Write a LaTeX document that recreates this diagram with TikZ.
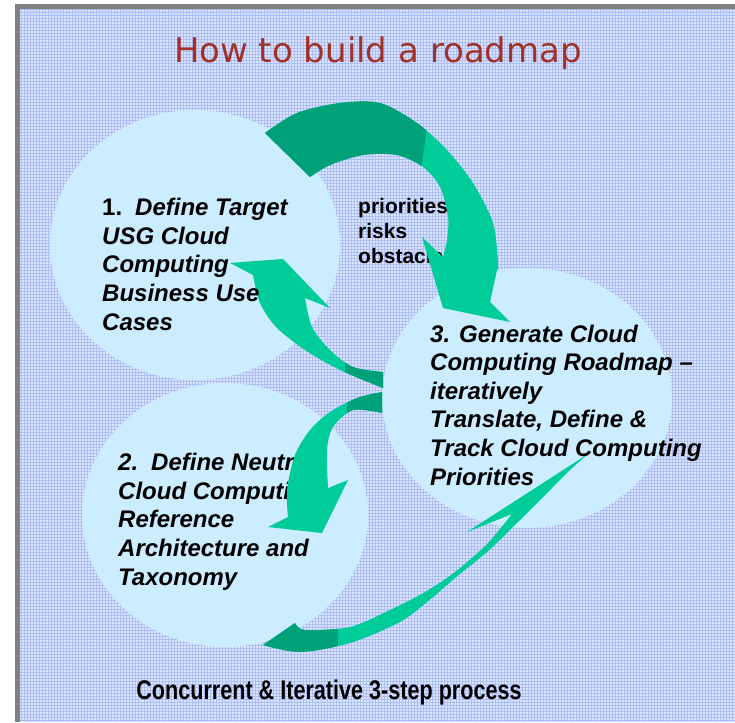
\documentclass[tikz,border=0pt]{standalone}
\usepackage{fontspec}
\setmainfont{Liberation Sans}
\newfontfamily\titlefont{DejaVu Sans}
\newfontfamily\narrowfont{Liberation Sans}[FakeStretch=0.8]
\definecolor{bubble}{RGB}{204,236,255}
\definecolor{leafgreen}{RGB}{0,204,153}
\definecolor{darkleaf}{RGB}{0,160,120}
\definecolor{titlered}{RGB}{160,48,40}
\definecolor{gridbase}{RGB}{222,230,253}
\definecolor{gridline}{RGB}{172,190,247}
\definecolor{framegray}{RGB}{128,128,128}
\begin{document}
\begin{tikzpicture}[x=1pt, y=-1pt,
    bubble/.style={fill=bubble},
    bubbletext/.style={anchor=base west, align=left, inner sep=0pt,
        font=\fontsize{24}{28.6}\selectfont\bfseries\itshape},
    light/.style={fill=leafgreen},
    dark/.style={fill=darkleaf}]
\useasboundingbox (0,0) rectangle (735,722);
\fill[white] (0,0) rectangle (735,722);
\fill[framegray] (15,4) rectangle (735,722);
\fill[gridbase] (20,9) rectangle (735,722);
\begin{scope}
    \clip (20,9) rectangle (735,722);
    \draw[gridline, line width=0.6pt, step=3pt] (20,9) grid (735,722);
\end{scope}
\fill[bubble] (195,245) ellipse (145pt and 135pt);
\fill[bubble] (225,515) ellipse (143pt and 132pt);
\fill[bubble] (527,398) ellipse (145pt and 130pt);
\node[bubbletext] (arch) at (118,585)
    {2.\hspace{13pt}Define Neutral\\Cloud Computing\\Reference\\Architecture and\\Taxonomy};
\node[anchor=base west, align=left, inner sep=0pt,
    font=\fontsize{21}{25}\selectfont\bfseries] (issues) at (358,263)
    {priorities\\risks\\obstacles};
% top arrow: goal -> roadmap
\def\arrowA{(265,133) -- plot[smooth] coordinates {(265,133) (297,113) (340,103) (380,103)
    (417,123) (447,150) (473,183) (493,223) (498,263) (497,270)}
    -- (490,302) -- (510,322) -- (443,308) -- (422,237) -- (443,257)
    -- plot[smooth] coordinates {(443,257) (447,240) (448,217) (440,187) (423,167)
    (397,155) (363,155) (330,165) (310,177)} -- cycle}
\fill[light] \arrowA;
\begin{scope}
    \clip \arrowA;
    \fill[dark] (250,80) -- (434,80) -- (420,176) -- (250,220) -- cycle;
\end{scope}
% roadmap -> goal
\def\arrowB{(383,372) -- plot[smooth] coordinates {(383,372) (353,367) (330,350) (312,327) (305,298)}
    -- (330,308) -- (283,259) -- (230,263) -- (253,275)
    -- plot[smooth] coordinates {(253,275) (260,303) (276,327) (305,350) (340,370) (383,388)} -- cycle}
\fill[light] \arrowB;
\begin{scope}
    \clip \arrowB;
    \fill[dark] (345,355) rectangle (390,395);
\end{scope}
% roadmap -> arch
\def\arrowC{(382,392) -- plot[smooth] coordinates {(382,392) (357,398) (330,412) (310,430)
    (295,455) (287,490) (288,517)}
    -- (268,527) -- (322,533) -- (348,480) -- (328,488)
    -- plot[smooth] coordinates {(328,488) (327,450) (333,427) (353,410) (382,413)} -- cycle}
\fill[light] \arrowC;
\begin{scope}
    \clip \arrowC;
    \fill[dark] (347,385) rectangle (390,420);
\end{scope}
% arch -> roadmap
\def\arrowD{(263,645) -- plot[smooth] coordinates {(263,645) (300,652) (350,643) (400,622)
    (432,598) (455,578) (487,552) (520,520) (550,490) (570,470) (588,454)}
    -- (467,532) -- (512,514)
    -- plot[smooth] coordinates {(512,514) (487,544) (455,572) (425,592) (390,610)
    (350,627) (305,630) (295,623)} -- cycle}
\fill[light] \arrowD;
\begin{scope}
    \clip \arrowD;
    \fill[dark] (250,600) rectangle (338,670);
\end{scope}
\node[bubbletext] (goal) at (102,330)
    {{\upshape 1.}\hspace{13pt}Define Target\\USG Cloud\\Computing\\Business Use\\Cases};
\node[bubbletext] (roadmap) at (430,485)
    {3. Generate Cloud\\Computing Roadmap --\\iteratively\\Translate, Define \&\\Track Cloud Computing\\Priorities};
\node[anchor=base, inner sep=0pt, font=\fontsize{34}{40}\titlefont, text=titlered]
    (title) at (378,63) {How to build a roadmap};
\node[anchor=base, inner sep=0pt, font=\fontsize{27}{32}\narrowfont\bfseries]
    (footer) at (329,699) {Concurrent \& Iterative 3-step process};
\end{tikzpicture}
\end{document}
